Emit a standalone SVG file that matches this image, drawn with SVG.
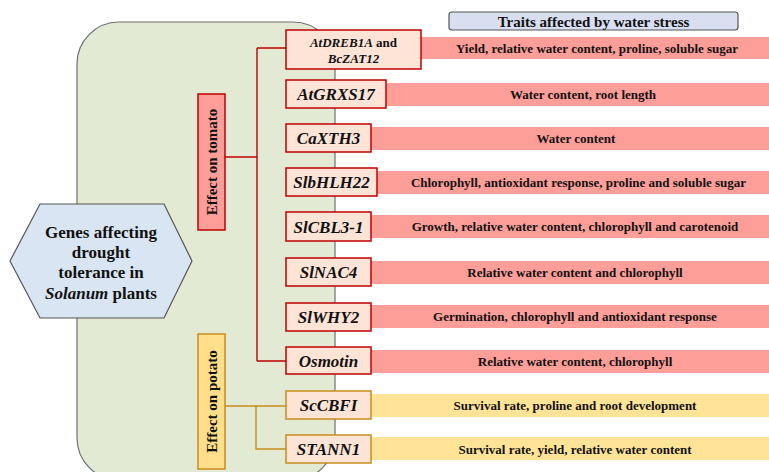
<svg xmlns="http://www.w3.org/2000/svg" width="769" height="472" viewBox="0 0 769 472">
<style>
  .t{font-family:"Liberation Serif","Times New Roman",serif;font-weight:bold;fill:#111;}
  .gene{font-family:"Liberation Serif","Times New Roman",serif;font-weight:bold;font-style:italic;font-size:17px;fill:#111;text-anchor:middle;}
  .small{font-size:13px;}
  .trait{font-size:13px;text-anchor:middle;}
  .gbr{fill:#fde4d6;stroke:#c00000;stroke-width:1.5;}
  .gby{fill:#fde4d6;stroke:#c88d1c;stroke-width:1.5;}
  .barR{fill:#fe9e98;}
  .barY{fill:#ffe497;}
  .cR{stroke:#c00000;stroke-width:1.4;fill:none;}
  .cY{stroke:#c88d1c;stroke-width:1.4;fill:none;}
</style>
<rect width="769" height="472" fill="#fff"/>
<g id="panel">
  <rect x="77" y="22" width="258" height="458" rx="42" ry="42" fill="#e2ead3" stroke="#6f6f6f" stroke-width="1.2"/>
</g>
<g id="title">
  <rect x="449" y="12" width="289" height="18" rx="3" fill="#d9dff0" stroke="#555" stroke-width="1.2"/>
  <text class="t" x="593.5" y="27" font-size="15" text-anchor="middle">Traits affected by water stress</text>
</g>
<g id="bars">
  <rect class="barR" x="421" y="37" width="348" height="22"/>
  <text class="t trait" x="597" y="52.5">Yield, relative water content, proline, soluble sugar</text>
  <rect class="barR" x="386" y="83" width="383" height="23"/>
  <text class="t trait" x="583" y="99">Water content, root length</text>
  <rect class="barR" x="371" y="127" width="398" height="23"/>
  <text class="t trait" x="576" y="143">Water content</text>
  <rect class="barR" x="377" y="171" width="392" height="23"/>
  <text class="t trait" x="578.5" y="187">Chlorophyll, antioxidant response, proline and soluble sugar</text>
  <rect class="barR" x="371" y="215" width="398" height="23"/>
  <text class="t trait" x="575" y="231">Growth, relative water content, chlorophyll and carotenoid</text>
  <rect class="barR" x="371" y="261" width="398" height="23"/>
  <text class="t trait" x="575" y="277">Relative water content and chlorophyll</text>
  <rect class="barR" x="371" y="305" width="398" height="23"/>
  <text class="t trait" x="575" y="321">Germination, chlorophyll and antioxidant response</text>
  <rect class="barR" x="371" y="350" width="398" height="23"/>
  <text class="t trait" x="575" y="366">Relative water content, chlorophyll</text>
  <rect class="barY" x="371" y="394" width="398" height="23"/>
  <text class="t trait" x="575" y="410">Survival rate, proline and root development</text>
  <rect class="barY" x="371" y="437" width="398" height="23"/>
  <text class="t trait" x="575" y="453.5">Survival rate, yield, relative water content</text>
</g>
<g id="connectors">
  <path class="cR" d="M225,157 H257 M257,48 V361 M257,48 H286 M257,361 H286"/>
  <path class="cY" d="M225,406 H286 M256,406 V449 H286"/>
</g>
<g id="hub">
  <polygon points="10,261 40,204 164,204 192,261 164,318 40,318" fill="#dae5f3" stroke="#555" stroke-width="1.2"/>
  <text class="t" font-size="17" text-anchor="middle" x="101" y="238">Genes affecting</text>
  <text class="t" font-size="17" text-anchor="middle" x="101" y="258">drought</text>
  <text class="t" font-size="17" text-anchor="middle" x="101" y="278">tolerance in</text>
  <text class="t" font-size="17" text-anchor="middle" x="101" y="299"><tspan font-style="italic">Solanum</tspan> plants</text>
</g>
<g id="tomato">
  <rect x="198" y="94" width="27" height="136" fill="#fe9e98" stroke="#c00000" stroke-width="1.5"/>
  <text class="t" font-size="15" text-anchor="middle" transform="translate(216.5,162) rotate(-90)">Effect on tomato</text>
</g>
<g id="potato">
  <rect x="198" y="334" width="27" height="135" fill="#ffdf8c" stroke="#c88d1c" stroke-width="1.5"/>
  <text class="t" font-size="15" text-anchor="middle" transform="translate(216.5,401.5) rotate(-90)">Effect on potato</text>
</g>
<g id="g-atdreb1a">
  <rect class="gbr" x="286" y="30" width="135" height="39"/>
  <text class="gene small" x="353.5" y="47"><tspan>AtDREB1A</tspan><tspan font-style="normal"> and</tspan></text>
  <text class="gene small" x="353.5" y="63">BcZAT12</text>
</g>
<g id="g-atgrxs17">
  <rect class="gbr" x="286" y="80" width="100" height="28"/>
  <text class="gene" x="336" y="100">AtGRXS17</text>
</g>
<g id="g-caxth3">
  <rect class="gbr" x="286" y="124" width="85" height="28"/>
  <text class="gene" x="328.5" y="144">CaXTH3</text>
</g>
<g id="g-slbhlh22">
  <rect class="gbr" x="286" y="168" width="91" height="28"/>
  <text class="gene" x="331.5" y="188">SlbHLH22</text>
</g>
<g id="g-slcbl3-1">
  <rect class="gbr" x="286" y="212" width="85" height="29"/>
  <text class="gene" x="328.5" y="232.5">SlCBL3-1</text>
</g>
<g id="g-slnac4">
  <rect class="gbr" x="286" y="258" width="85" height="28"/>
  <text class="gene" x="328.5" y="278">SlNAC4</text>
</g>
<g id="g-slwhy2">
  <rect class="gbr" x="286" y="303" width="85" height="28"/>
  <text class="gene" x="328.5" y="323">SlWHY2</text>
</g>
<g id="g-osmotin">
  <rect class="gbr" x="286" y="347" width="85" height="27"/>
  <text class="gene" x="328.5" y="366.5">Osmotin</text>
</g>
<g id="g-sccbfi">
  <rect class="gby" x="286" y="391" width="85" height="28"/>
  <text class="gene" x="328.5" y="411">ScCBFI</text>
</g>
<g id="g-stann1">
  <rect class="gby" x="286" y="435" width="85" height="28"/>
  <text class="gene" x="328.5" y="455">STANN1</text>
</g>
</svg>
